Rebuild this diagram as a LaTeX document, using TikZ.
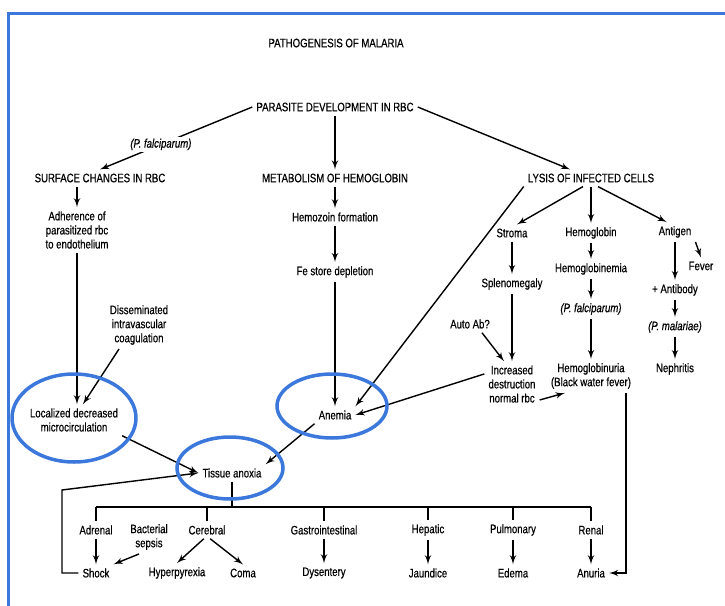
\documentclass[tikz,border=0pt]{standalone}
\usepackage{fontspec}
\setmainfont{Liberation Sans}[FakeStretch=0.78,FakeBold=0.5]
\usepackage{tikz}
\usetikzlibrary{arrows}
\definecolor{markblue}{RGB}{60,120,220}

\begin{document}
\begin{tikzpicture}[x=0.02cm,y=-0.02cm,>=latex',line width=0.8pt,
	every node/.style={font=\fontsize{7}{8}\selectfont,inner sep=2pt,align=center},
	ring/.style={draw=markblue,line width=2pt}]
	\useasboundingbox (0,0) rectangle (725,606);
	\draw[markblue,line width=1.8pt](8.5,612)--(8.5,13.5)--(731,13.5);
	
	\node (title) at (336,43) {PATHOGENESIS OF MALARIA};
	\node (parasite) at (335,107) {PARASITE DEVELOPMENT IN RBC};
	\node (surface) at (100,178) {SURFACE CHANGES IN RBC};
	\node (metab) at (335,178) {METABOLISM OF HEMOGLOBIN};
	\node (lysis) at (591,178) {LYSIS OF INFECTED CELLS};
	
	\node (adher) at (77,230) {Adherence of\\parasitized rbc\\to endothelium};
	\node (hemozoin) at (335,217) {Hemozoin formation};
	\node (fe) at (335,272) {Fe store depletion};
	\node (dic) at (139,325) {Disseminated\\intravascular\\coagulation};
	\node (local) at (74,420) {Localized decreased\\microcirculation};
	\node (anemia) at (335,415) {Anemia};
	\node (tissue) at (232,473) {Tissue anoxia};
	
	\node (stroma) at (512,233) {Stroma};
	\node (hglobin) at (591,233) {Hemoglobin};
	\node (antigen) at (675,232) {Antigen};
	\node (fever) at (701,266) {Fever};
	\node (spleno) at (512,284) {Splenomegaly};
	\node (hgbnemia) at (591,269) {Hemoglobinemia};
	\node (antibody) at (675,290) {+ Antibody};
	\node (pfal) at (591,309) {\textit{(P. falciparum)}};
	\node (autoab) at (470,324) {Auto Ab?};
	\node (pmal) at (675,327) {\textit{(P. malariae)}};
	\node (increased) at (512,384) {Increased\\destruction\\normal rbc};
	\node (hburia) at (591,376) {Hemoglobinuria\\(Black water fever)};
	\node (nephritis) at (675,369) {Nephritis};
	
	\node (adrenal) at (96,530) {Adrenal};
	\node (sepsis) at (149,537) {Bacterial\\sepsis};
	\node (cerebral) at (207,530) {Cerebral};
	\node (gastro) at (324,530) {Gastrointestinal};
	\node (hepatic) at (428,530) {Hepatic};
	\node (pulmonary) at (513,530) {Pulmonary};
	\node (renal) at (591,530) {Renal};
	\node (shock) at (96,573) {Shock};
	\node (hyper) at (177,573) {Hyperpyrexia};
	\node (coma) at (243,573) {Coma};
	\node (dysentery) at (324,573) {Dysentery};
	\node (jaundice) at (428,573) {Jaundice};
	\node (edema) at (513,573) {Edema};
	\node (anuria) at (591,573) {Anuria};
	
	\coordinate (bus) at (232,507);
	\coordinate (loopbend) at (62,490);
	
	\draw[->](parasite.west)--node[pos=0.6,fill=white,inner sep=1pt] (pfalb) {\textit{(P. falciparum)}}(surface.north);
	\draw[->](parasite)--(metab);
	\draw[->](parasite.east)--(lysis);
	
	\draw[->](adher |- surface.south)--(adher.north);
	\draw[->](adher.south)--(adher.south |- local.north);
	\draw[->]([xshift=-0.4cm]dic.south)--([xshift=0.18cm]local.north);
	\draw[->](local.south east)--(tissue.west);
	
	\draw[->](metab)--(hemozoin);
	\draw[->](hemozoin)--(fe);
	\draw[->](fe)--(anemia);
	\draw[->](anemia.south west)--(tissue.north east);
	
	\draw[->](lysis.south west)--(anemia.north east);
	\draw[->]([xshift=-0.16cm]lysis.south)--(stroma.60);
	\draw[->](lysis)--(hglobin);
	\draw[->]([xshift=0.14cm]lysis.south)--(antigen.130);
	
	\draw[->](stroma)--(spleno);
	\draw[->](spleno)--(increased);
	\draw[->]([xshift=0.24cm]autoab.south)--([xshift=-0.16cm]increased.north);
	\draw[->](increased.160)--(anemia.east);
	\draw[->](increased.-30)--([xshift=0.36cm]hburia.south west);
	
	\draw[->](hglobin)--(hgbnemia);
	\draw[->](hgbnemia)--(pfal);
	\draw[->](pfal)--(hburia);
	\draw[->]([xshift=-0.18cm]hburia.south east)|-(anuria.east);
	
	\draw[->](antigen.south east)--(fever.north);
	\draw[->](antigen)--(antibody);
	\draw[->](antibody)--(pmal);
	\draw[->](pmal)--(nephritis);
	
	\draw(tissue)--(bus);
	\draw(adrenal.north |- bus)--(renal.north |- bus);
	\foreach \n in {adrenal,cerebral,gastro,hepatic,pulmonary,renal}
		\draw(\n.north |- bus)--(\n.north);
	
	\draw[->](adrenal)--(shock);
	\draw[->]([xshift=-0.2cm]sepsis.south)--(shock.north east);
	\draw[->](cerebral.-110)--(hyper.north);
	\draw[->](cerebral.-70)--(coma.north);
	\draw[->](gastro)--(dysentery);
	\draw[->](hepatic)--(jaundice);
	\draw[->](pulmonary)--(edema);
	\draw[->](renal)--(anuria);
	\draw[->](shock.west)-|(loopbend)--(tissue.west);
	
	\draw[ring](74,418) ellipse [x radius=1.24cm, y radius=0.88cm];
	\draw[ring](332,406) ellipse [x radius=1.1cm, y radius=0.64cm];
	\draw[ring](230,468) ellipse [x radius=1.06cm, y radius=0.62cm];
	
\end{tikzpicture}
\end{document}
